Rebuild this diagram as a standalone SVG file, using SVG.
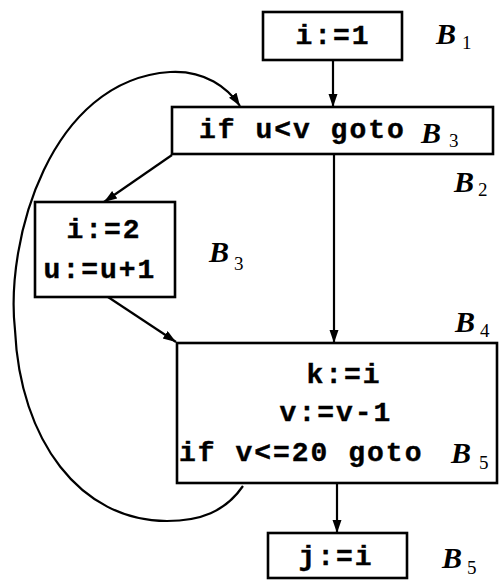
<svg xmlns="http://www.w3.org/2000/svg" width="499" height="581" viewBox="0 0 499 581">
<style>
.box{fill:#fff;stroke:#000;stroke-width:2.6}
.code{font-family:"Liberation Mono","DejaVu Sans Mono",monospace;font-weight:bold;font-size:28px;letter-spacing:2px;fill:#000;stroke:#000;stroke-width:0.4}
.bl{font-family:"Liberation Serif","DejaVu Serif",serif;font-weight:bold;font-style:italic;font-size:30px;fill:#000}
.sub{font-family:"Liberation Serif","DejaVu Serif",serif;font-size:19px;fill:#000}
.edge{fill:none;stroke:#000;stroke-width:2.2}
</style>
<defs>
<marker id="ah" markerUnits="userSpaceOnUse" markerWidth="14" markerHeight="10" refX="13" refY="4.5" orient="auto">
<path d="M0,0 L13,4.5 L0,9 z" fill="#000"/>
</marker>
</defs>
<rect width="499" height="581" fill="#fff"/>
<g id="edges">
<line class="edge" x1="333" y1="60" x2="333" y2="107" marker-end="url(#ah)"/>
<line class="edge" x1="334" y1="154" x2="334" y2="343" marker-end="url(#ah)"/>
<line class="edge" x1="337" y1="483" x2="337" y2="533" marker-end="url(#ah)"/>
<line class="edge" x1="172" y1="155" x2="104" y2="202" marker-end="url(#ah)"/>
<line class="edge" x1="108" y1="297" x2="176" y2="342" marker-end="url(#ah)"/>
<path class="edge" d="M243,486 C225,512 200,521 167,521 C80,521 20,440 15,330 C5,240 50,80 170,72 C205,70 228,88 240,106" marker-end="url(#ah)"/>
</g>
<g id="B1">
<rect class="box" x="263" y="12" width="139" height="48"/>
<text class="code" x="333" y="44" text-anchor="middle">i:=1</text>
<text class="bl" x="436" y="44">B</text><text class="sub" x="462" y="49">1</text>
</g>
<g id="B2">
<rect class="box" x="172" y="107" width="321" height="47"/>
<text class="code" x="199" y="138">if u&lt;v goto</text>
<text class="bl" x="421" y="143">B</text><text class="sub" x="449" y="147">3</text>
<text class="bl" x="454" y="192">B</text><text class="sub" x="478" y="196">2</text>
</g>
<g id="B3">
<rect class="box" x="35" y="202" width="140" height="95"/>
<text class="code" x="104" y="238" text-anchor="middle">i:=2</text>
<text class="code" x="100" y="278" text-anchor="middle">u:=u+1</text>
<text class="bl" x="209" y="262">B</text><text class="sub" x="234" y="270">3</text>
</g>
<g id="B4">
<rect class="box" x="177" y="343" width="320" height="140"/>
<text class="code" x="344" y="383" text-anchor="middle">k:=i</text>
<text class="code" x="336" y="421" text-anchor="middle">v:=v-1</text>
<text class="code" x="179" y="461">if v&lt;=20 goto</text>
<text class="bl" x="451" y="463">B</text><text class="sub" x="479" y="469">5</text>
<text class="bl" x="455" y="332">B</text><text class="sub" x="480" y="337">4</text>
</g>
<g id="B5">
<rect class="box" x="268" y="533" width="139" height="45"/>
<text class="code" x="336" y="565" text-anchor="middle">j:=i</text>
<text class="bl" x="442" y="568">B</text><text class="sub" x="467" y="574">5</text>
</g>
</svg>
